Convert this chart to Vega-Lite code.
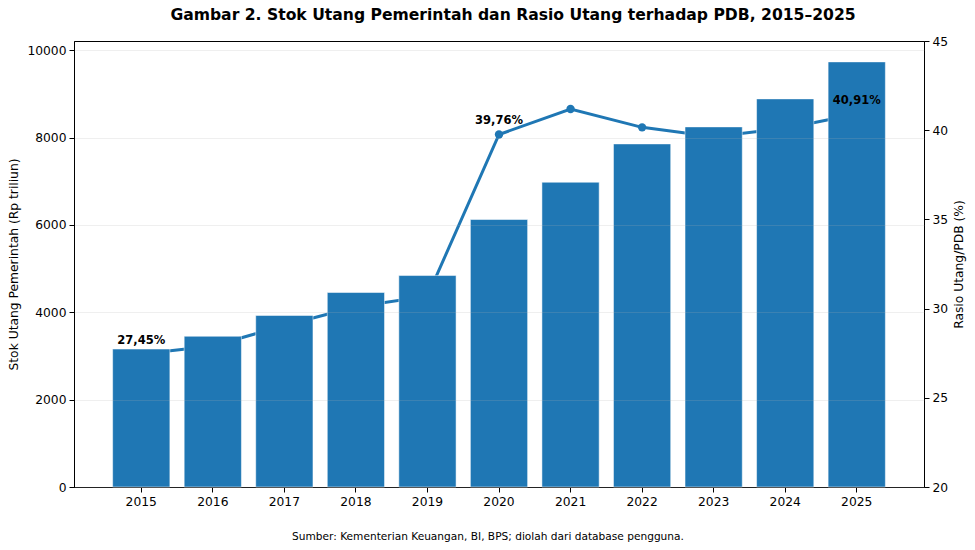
{
  "$schema": "https://vega.github.io/schema/vega-lite/v6.json",
  "width": 850,
  "height": 446,
  "autosize": {"type": "none"},
  "padding": {"left": 74, "top": 41, "right": 51, "bottom": 63},
  "background": "white",
  "config": {
    "font": "DejaVu Sans",
    "view": {"stroke": "black", "strokeWidth": 1},
    "axis": {
      "domainColor": "black",
      "tickColor": "black",
      "tickSize": 5,
      "labelFont": "DejaVu Sans",
      "labelFontSize": 12.3,
      "labelColor": "black",
      "labelPadding": 3,
      "titleFont": "DejaVu Sans",
      "titleFontSize": 12.3,
      "titleFontWeight": "normal",
      "titleColor": "black"
    }
  },
  "title": {
    "text": "Gambar 2. Stok Utang Pemerintah dan Rasio Utang terhadap PDB, 2015–2025",
    "font": "DejaVu Sans",
    "fontSize": 15.6,
    "fontWeight": "bold",
    "color": "black",
    "anchor": "middle",
    "dx": 14,
    "offset": 11
  },
  "data": {
    "values": [
      {"tahun": "2015", "stok": 3158, "rasio": 27.45, "label": "27,45%"},
      {"tahun": "2016", "stok": 3451, "rasio": 27.9, "label": ""},
      {"tahun": "2017", "stok": 3927, "rasio": 29.05, "label": ""},
      {"tahun": "2018", "stok": 4452, "rasio": 30.1, "label": ""},
      {"tahun": "2019", "stok": 4841, "rasio": 30.7, "label": ""},
      {"tahun": "2020", "stok": 6123, "rasio": 39.76, "label": "39,76%"},
      {"tahun": "2021", "stok": 6977, "rasio": 41.19, "label": ""},
      {"tahun": "2022", "stok": 7854, "rasio": 40.16, "label": ""},
      {"tahun": "2023", "stok": 8244, "rasio": 39.64, "label": ""},
      {"tahun": "2024", "stok": 8885, "rasio": 40.1, "label": ""},
      {"tahun": "2025", "stok": 9732, "rasio": 40.91, "label": "40,91%"}
    ]
  },
  "encoding": {
    "x": {
      "field": "tahun",
      "type": "ordinal",
      "scale": {"paddingInner": 0.2, "paddingOuter": 0.54},
      "axis": {
        "labelAngle": 0,
        "title": "Sumber: Kementerian Keuangan, BI, BPS; diolah dari database pengguna.",
        "titleFontSize": 10.6,
        "titleX": 413.5,
        "titlePadding": 24
      }
    }
  },
  "layer": [
    {
      "encoding": {
        "y": {
          "field": "rasio",
          "type": "quantitative",
          "scale": {"domain": [20, 45], "nice": false, "zero": false},
          "axis": {
            "orient": "right",
            "title": "Rasio Utang/PDB (%)",
            "values": [20, 25, 30, 35, 40, 45],
            "grid": false,
            "titleAngle": 270,
            "titleBaseline": "top",
            "titlePadding": 5
          }
        }
      },
      "layer": [
        {"mark": {"type": "line", "color": "#1f77b4", "strokeWidth": 3}},
        {"mark": {"type": "point", "filled": true, "size": 70, "color": "#1f77b4", "opacity": 1}}
      ]
    },
    {
      "mark": {
        "type": "bar",
        "color": "#1f77b4",
        "stroke": "white",
        "strokeWidth": 1,
        "strokeOpacity": 0.5
      },
      "encoding": {
        "y": {
          "field": "stok",
          "type": "quantitative",
          "scale": {"domain": [0, 10210], "nice": false},
          "axis": {
            "orient": "left",
            "title": "Stok Utang Pemerintah (Rp triliun)",
            "values": [0, 2000, 4000, 6000, 8000, 10000],
            "format": "d",
            "grid": true,
            "gridColor": "#b0b0b0",
            "gridOpacity": 0.2,
            "zindex": 1,
            "titlePadding": 6
          }
        }
      }
    },
    {
      "mark": {
        "type": "text",
        "fontSize": 11.5,
        "fontWeight": "bold",
        "color": "black",
        "dy": -13
      },
      "encoding": {
        "y": {
          "field": "rasio",
          "type": "quantitative",
          "scale": {"domain": [20, 45], "nice": false, "zero": false},
          "axis": null
        },
        "text": {"field": "label"}
      }
    }
  ],
  "resolve": {"scale": {"y": "independent"}, "axis": {"y": "independent"}}
}
